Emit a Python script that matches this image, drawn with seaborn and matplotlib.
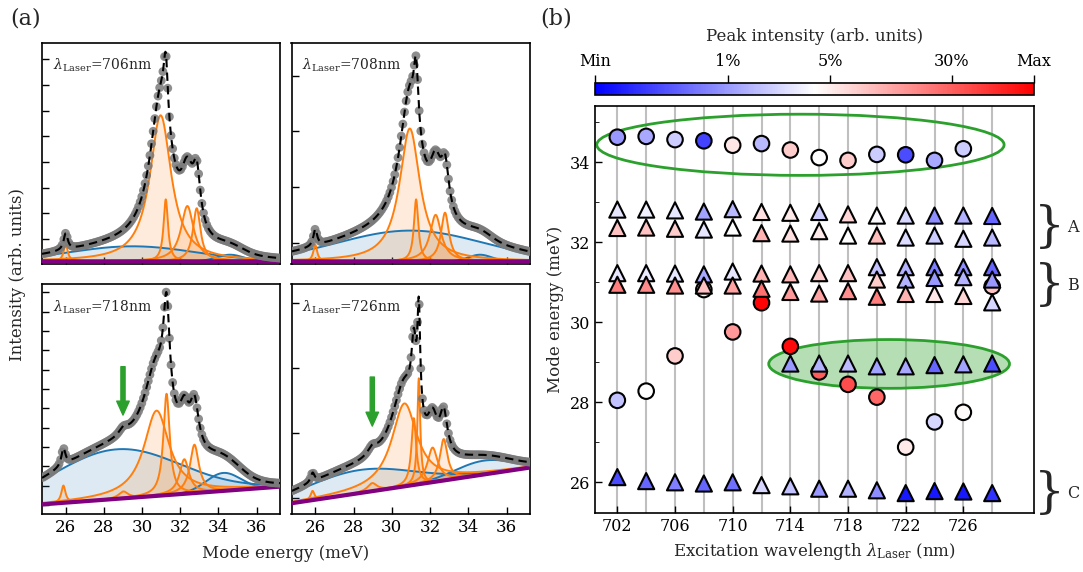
import numpy as np
import pandas as pd
import matplotlib
matplotlib.use("Agg")
import matplotlib.pyplot as plt
import seaborn as sns
from matplotlib.patches import Ellipse
from matplotlib.colors import Normalize
from matplotlib.cm import ScalarMappable
from matplotlib.ticker import MultipleLocator

sns.set_style("ticks")
plt.rcParams.update({
    'font.family': ['DejaVu Serif'],
    'mathtext.fontset': 'dejavuserif',
    'font.size': 11.5,
    'xtick.direction': 'in', 'ytick.direction': 'in',
    'axes.linewidth': 1.2, 'axes.edgecolor': 'black',
    'xtick.color': 'black', 'ytick.color': 'black',
    'xtick.major.size': 5, 'ytick.major.size': 5,
    'xtick.minor.size': 3, 'ytick.minor.size': 3,
    'xtick.major.width': 1.0, 'ytick.major.width': 1.0,
})

# ---------------- panel (a) data: fitted components ----------------
# orange Lorentzian peaks: (amplitude, centre meV, half width)
# blue Gaussian bands: (amplitude, centre meV, sigma)
# baseline: (value at left edge, value at right edge)
spec_lambda = [706, 708, 718, 726]
orange_706 = [(0.075, 26.0, 0.13), (0.66, 30.97, 0.68), (0.28, 31.24, 0.14),
              (0.25, 32.37, 0.4), (0.24, 32.86, 0.24)]
blue_706 = [(0.068, 29.5, 3.3), (0.03, 34.6, 0.7)]
base_706 = (0.012, 0.012)

orange_708 = [(0.075, 26.0, 0.12), (0.60, 30.94, 0.65), (0.28, 31.27, 0.14),
              (0.21, 32.29, 0.36), (0.22, 32.78, 0.25)]
blue_708 = [(0.139, 30.97, 3.8), (0.03, 34.61, 0.6)]
base_708 = (0.012, 0.012)

orange_718 = [(0.075, 25.88, 0.13), (0.03, 29.02, 0.3), (0.37, 30.76, 0.8),
              (0.44, 31.28, 0.2), (0.15, 32.21, 0.3), (0.21, 32.74, 0.28)]
blue_718 = [(0.215, 28.67, 3.3), (0.078, 34.25, 0.9)]
base_718 = (0.043, 0.12)

orange_726 = [(0.04, 25.86, 0.12), (0.035, 28.98, 0.3), (0.36, 30.66, 0.8),
              (0.29, 31.15, 0.15), (0.46, 31.41, 0.09), (0.15, 32.13, 0.32),
              (0.18, 32.71, 0.24)]
blue_726 = [(0.1, 28.29, 2.8), (0.06, 34.79, 1.5)]
base_726 = (0.048, 0.203)

# y tick layout (axes fraction): first tick, spacing
ytick_first = [0.112, 0.095, 0.04, 0.07]
ytick_step = [0.1163, 0.252, 0.084, 0.2826]
arrow_E = [None, None, 29.0, 28.98]
arrow_y = [None, None, (0.641, 0.431), (0.596, 0.383)]

# ---------------- panel (b) data ----------------
wl = [702, 704, 706, 708, 710, 712, 714, 716, 718, 720, 722, 724, 726, 728]
# circles: upper mode (702-726)
top_circ_E = [34.63, 34.65, 34.57, 34.54, 34.43, 34.47, 34.31, 34.12, 34.05, 34.2, 34.19, 34.05, 34.34]
top_circ_I = [0.30, 0.33, 0.40, 0.13, 0.55, 0.36, 0.60, 0.50, 0.60, 0.40, 0.15, 0.33, 0.40]
# circles: dispersing mode (702-728)
disp_circ_E = [28.05, 28.28, 29.16, 30.82, 29.76, 30.49, 29.40, 28.76, 28.45, 28.13, 26.88, 27.51, 27.75, 30.90]
disp_circ_I = [0.38, 0.50, 0.60, 0.53, 0.70, 0.99, 0.98, 0.82, 0.85, 0.80, 0.54, 0.42, 0.51, 0.62]
# triangles
A_hi_E = [32.82, 32.82, 32.80, 32.77, 32.83, 32.76, 32.74, 32.76, 32.70, 32.67, 32.67, 32.67, 32.67, 32.66]
A_hi_I = [0.45, 0.47, 0.45, 0.32, 0.36, 0.56, 0.54, 0.40, 0.58, 0.49, 0.42, 0.28, 0.35, 0.20]
A_lo_E = [32.36, 32.37, 32.34, 32.32, 32.37, 32.23, 32.22, 32.28, 32.17, 32.17, 32.12, 32.17, 32.09, 32.12]
A_lo_I = [0.62, 0.62, 0.60, 0.45, 0.50, 0.65, 0.56, 0.54, 0.50, 0.63, 0.43, 0.40, 0.42, 0.36]
B_hi_E = [31.23, 31.23, 31.22, 31.20, 31.27, 31.22, 31.20, 31.23, 31.23, 31.38, 31.38, 31.38, 31.38, 31.38]
B_hi_I = [0.45, 0.46, 0.45, 0.33, 0.45, 0.65, 0.64, 0.60, 0.62, 0.38, 0.35, 0.25, 0.28, 0.20]
B_mid_wl = [720, 722, 724, 726, 728]
B_mid_E = [31.07, 31.07, 31.11, 31.13, 31.07]
B_mid_I = [0.60, 0.35, 0.30, 0.35, 0.30]
B_lo_E = [30.94, 30.94, 30.92, 30.92, 30.92, 30.84, 30.76, 30.72, 30.78, 30.64, 30.71, 30.71, 30.66, 30.50]
B_lo_I = [0.75, 0.73, 0.72, 0.62, 0.68, 0.78, 0.70, 0.68, 0.72, 0.75, 0.65, 0.55, 0.58, 0.42]
G_wl = [714, 716, 718, 720, 722, 724, 726, 728]
G_E = [28.97, 28.97, 28.97, 28.90, 28.90, 28.93, 28.95, 28.97]
G_I = [0.30, 0.35, 0.37, 0.32, 0.33, 0.20, 0.32, 0.15]
C_E = [26.13, 26.03, 26.00, 25.97, 26.00, 25.93, 25.90, 25.84, 25.84, 25.80, 25.73, 25.78, 25.77, 25.73]
C_I = [0.15, 0.20, 0.25, 0.20, 0.22, 0.42, 0.38, 0.30, 0.35, 0.28, 0.05, 0.05, 0.05, 0.10]

cbar_ticks = [0.0, 0.3025, 0.536, 0.813, 1.0]
cbar_labels = ['Min', '1%', '5%', '30%', 'Max']

# ---------------- figure ----------------
fig = plt.figure(figsize=(10.83, 5.72), dpi=100)
W, H = 1083, 572


def ax_px(x0, y0, x1, y1):
    return fig.add_axes([x0 / W, 1 - y1 / H, (x1 - x0) / W, (y1 - y0) / H])


spec_axes = [ax_px(42, 42.7, 280, 264), ax_px(291.5, 42.7, 530, 264),
             ax_px(42, 284, 280, 514.3), ax_px(291.5, 284, 530, 514.3)]
oranges = [orange_706, orange_708, orange_718, orange_726]
blues = [blue_706, blue_708, blue_718, blue_726]
bases = [base_706, base_708, base_718, base_726]


def lor(x, a, c, w):
    return a / (1 + ((x - c) / w) ** 2)


def gau(x, a, c, s):
    return a * np.exp(-0.5 * ((x - c) / s) ** 2)


xlo, xhi = 24.76, 37.22
xf = np.linspace(xlo, xhi, 1500)
xd = np.arange(24.8, 37.25, 0.085)

for i, ax in enumerate(spec_axes):
    b0, b1 = bases[i]
    basef = b0 + (b1 - b0) * (xf - xlo) / (xhi - xlo)
    based = b0 + (b1 - b0) * (xd - xlo) / (xhi - xlo)
    total_f = basef.copy()
    total_d = based.copy()
    for (a, c, s) in blues[i]:
        g = gau(xf, a, c, s)
        total_f += g
        total_d += gau(xd, a, c, s)
        ax.fill_between(xf, basef, basef + g, color='tab:blue', alpha=0.15, lw=0, zorder=1)
        ax.plot(xf, basef + g, color='tab:blue', lw=1.4, zorder=2)
    for (a, c, w) in oranges[i]:
        l = lor(xf, a, c, w)
        total_f += l
        total_d += lor(xd, a, c, w)
        ax.fill_between(xf, basef, basef + l, color='tab:orange', alpha=0.15, lw=0, zorder=1)
        ax.plot(xf, basef + l, color='tab:orange', lw=1.4, zorder=2)
    ax.plot(xf, basef, color='purple', lw=3, zorder=3)
    sns.scatterplot(x=xd, y=total_d, ax=ax, color='#7a7a7a', s=40, edgecolor='none',
                    alpha=0.85, zorder=4, legend=False)
    sns.lineplot(x=xf, y=total_f, ax=ax, color='black', lw=1.5, zorder=5)
    ax.lines[-1].set_dashes((4, 2.5))
    ax.set_xlim(xlo, xhi)
    ax.set_ylim(0, 1)
    ax.set_xticks([26, 28, 30, 32, 34, 36])
    ax.set_yticks(np.arange(ytick_first[i], 1.0, ytick_step[i]))
    ax.set_yticklabels([])
    ax.tick_params(labelsize=12)
    if i < 2:
        ax.set_xticklabels([])
    ax.set_xlabel('')
    ax.set_ylabel('')
    ax.text(0.045, 0.9, r'$\lambda_{\mathrm{Laser}}$=%dnm' % spec_lambda[i],
            transform=ax.transAxes, fontsize=10, va='center')
    if arrow_E[i] is not None:
        y0, y1 = arrow_y[i]
        ax.annotate('', xy=(arrow_E[i], y1), xytext=(arrow_E[i], y0),
                    arrowprops=dict(color='tab:green', width=3, headwidth=9,
                                    headlength=10, shrink=0), zorder=6)

fig.text(0.0166, 0.52, 'Intensity (arb. units)', rotation=90, va='center', ha='center', fontsize=12)
fig.text(286 / W, 1 - 553 / H, 'Mode energy (meV)', va='center', ha='center', fontsize=12)
fig.text(10 / W, 1 - 18 / H, '(a)', fontsize=16, va='center', ha='left')
fig.text(540 / W, 1 - 18 / H, '(b)', fontsize=16, va='center', ha='left')

# ---------------- panel (b) ----------------
axb = ax_px(595, 106, 1034, 513.3)
for w in wl:
    axb.axvline(w, color='grey', alpha=0.5, lw=1.5, zorder=0)

axb.add_patch(Ellipse((714.7, 34.44), 28.25, 1.53, fill=False,
                      edgecolor='tab:green', lw=2, zorder=1))
axb.add_patch(Ellipse((720.85, 28.96), 16.7, 1.22, facecolor=(0.17, 0.63, 0.17, 0.35),
                      edgecolor='tab:green', lw=2, zorder=1))

circ = pd.DataFrame({
    'wl': wl[:13] + wl,
    'E': top_circ_E + disp_circ_E,
    'I': top_circ_I + disp_circ_I,
})
tri = pd.DataFrame({
    'wl': wl + wl + wl + B_mid_wl + wl + G_wl + wl,
    'E': A_hi_E + A_lo_E + B_hi_E + B_mid_E + B_lo_E + G_E + C_E,
    'I': A_hi_I + A_lo_I + B_hi_I + B_mid_I + B_lo_I + G_I + C_I,
})
sns.scatterplot(data=circ, x='wl', y='E', hue='I', palette='bwr', hue_norm=(0, 1),
                marker='o', s=125, edgecolor='black', linewidth=1.5, legend=False,
                ax=axb, zorder=3)
sns.scatterplot(data=tri, x='wl', y='E', hue='I', palette='bwr', hue_norm=(0, 1),
                marker='^', s=135, edgecolor='black', linewidth=1.5, legend=False,
                ax=axb, zorder=4)

axb.set_xlim(700.45, 730.9)
axb.set_ylim(25.225, 35.41)
axb.set_xticks([702, 706, 710, 714, 718, 722, 726])
axb.yaxis.set_major_locator(MultipleLocator(2))
axb.yaxis.set_minor_locator(MultipleLocator(1))
axb.tick_params(labelsize=11.5)
axb.set_xlabel(r'Excitation wavelength $\lambda_{\mathrm{Laser}}$ (nm)', fontsize=12)
axb.set_ylabel('Mode energy (meV)', fontsize=12)

for yc, lab in [(32.38, 'A'), (30.93, 'B'), (25.72, 'C')]:
    axb.text(731.95, yc, '}', fontsize=35, va='center', ha='center', clip_on=False)
    axb.text(733.6, yc, lab, fontsize=11.5, va='center', ha='center', clip_on=False)

cax = ax_px(595, 82.7, 1034, 95)
sm = ScalarMappable(norm=Normalize(0, 1), cmap='bwr')
cb = fig.colorbar(sm, cax=cax, orientation='horizontal')
cb.set_ticks(cbar_ticks)
cb.set_ticklabels(cbar_labels)
cax.xaxis.set_ticks_position('top')
cax.xaxis.set_label_position('top')
cax.tick_params(direction='out', length=6, width=1.0, labelsize=11.5)
cb.set_label('Peak intensity (arb. units)', fontsize=12, labelpad=8)
cb.outline.set_linewidth(1.2)

fig.savefig('out.png', dpi=100)
